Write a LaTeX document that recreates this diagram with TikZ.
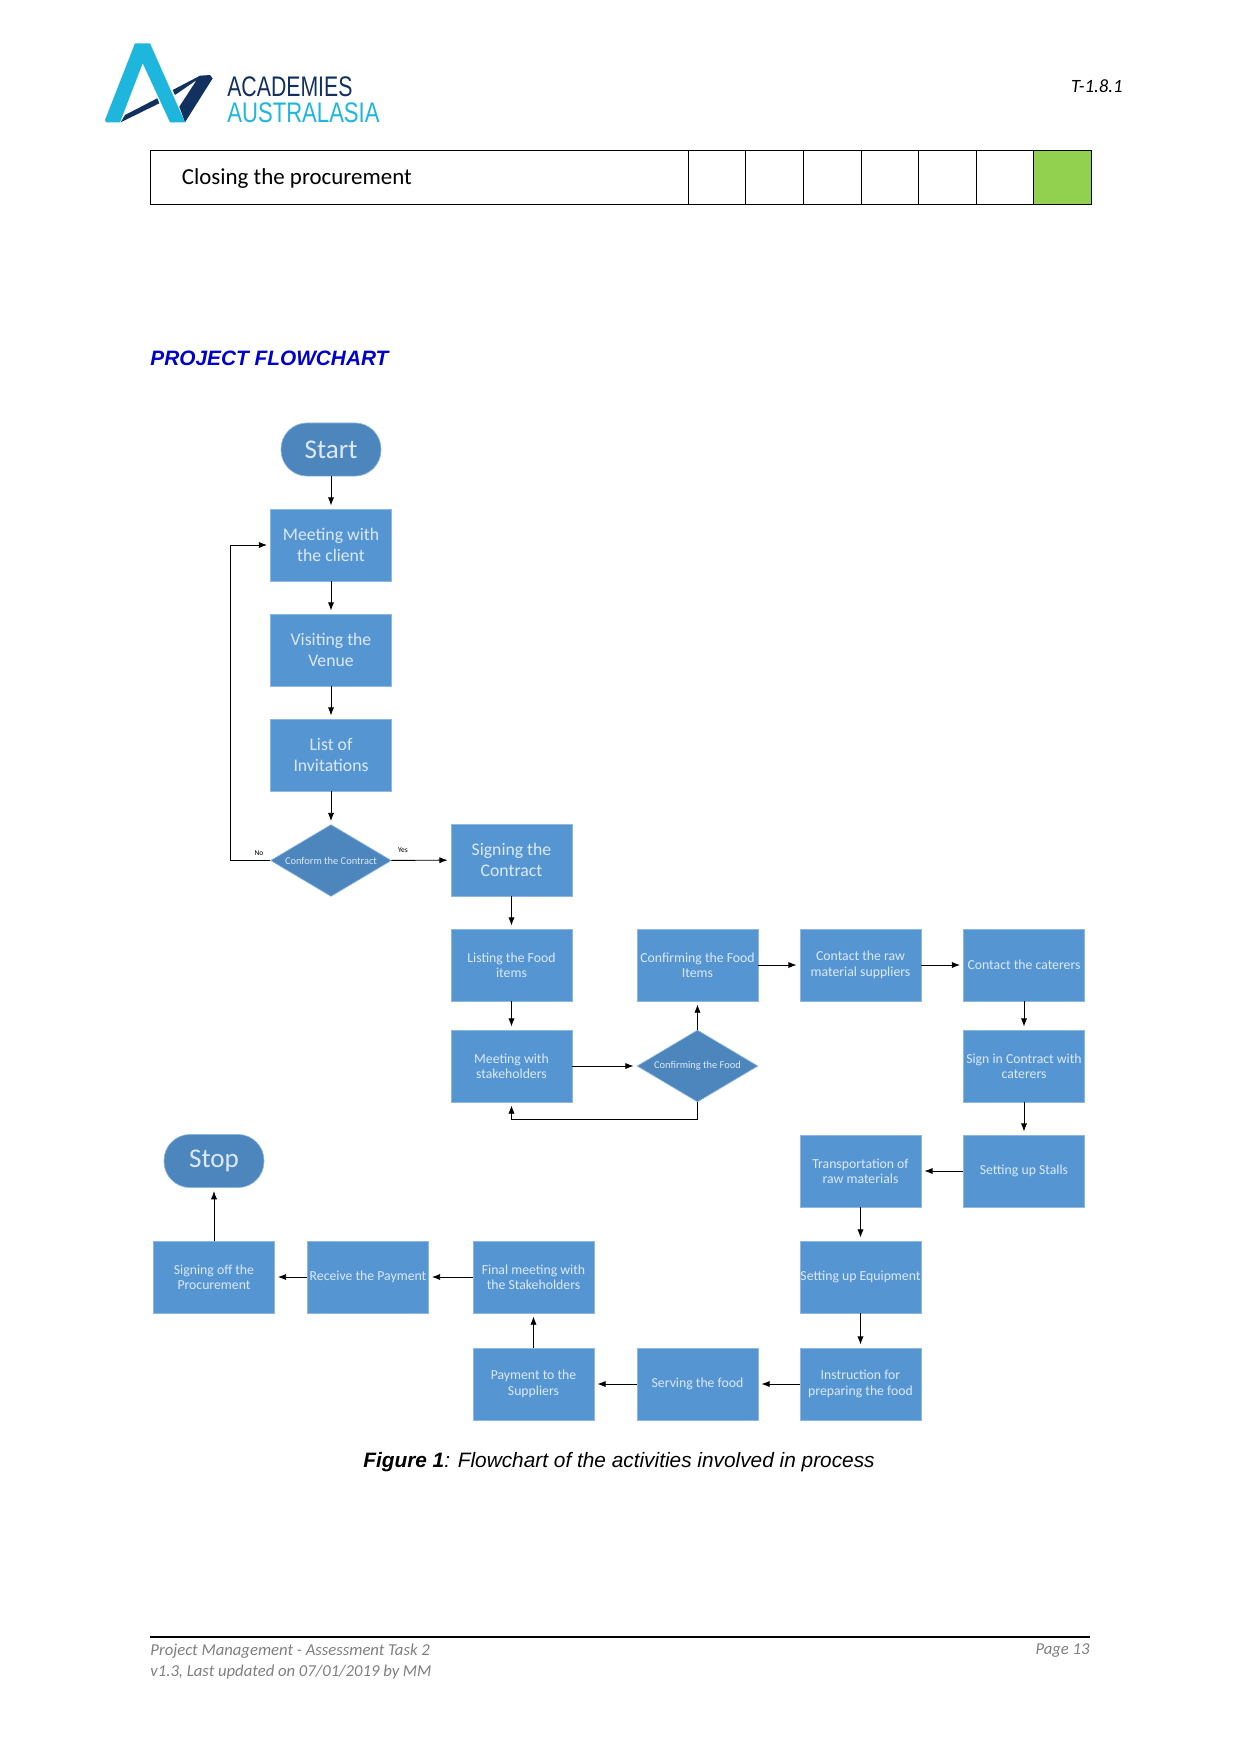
\documentclass[tikz,border=0pt]{standalone}
\usepackage{fontspec}
\setmainfont{Carlito}
\newfontfamily\arialfont{Liberation Sans}
\usetikzlibrary{arrows.meta,shapes.geometric}

\definecolor{boxblue}{HTML}{5596D2}
\definecolor{deepblue}{HTML}{4C86BC}
\definecolor{edgeblue}{HTML}{8DB8E2}
\definecolor{boxtext}{HTML}{DCE9F6}
\definecolor{logocyan}{HTML}{1FB6DE}
\definecolor{logonavy}{HTML}{13315F}
\definecolor{tickgreen}{HTML}{92D050}
\definecolor{footgray}{HTML}{7F7F7F}

\tikzset{
  box/.style={rectangle,draw=edgeblue,line width=0.3pt,fill=boxblue,text=boxtext,
    minimum width=58pt,minimum height=34.5pt,inner sep=0pt,align=center,
    font=\fontsize{8.5}{10.4}\selectfont},
  smallbox/.style={box,font=\fontsize{6.6}{7.4}\selectfont},
  term/.style={rectangle,rounded corners=12.5pt,draw=edgeblue,line width=0.3pt,fill=deepblue,
    text=boxtext,minimum height=25.5pt,inner sep=0pt,font=\fontsize{13}{15}\selectfont},
  decide/.style={diamond,draw=edgeblue,line width=0.3pt,fill=deepblue,text=boxtext,
    minimum width=58pt,minimum height=34.5pt,inner sep=0pt,aspect=1.67,
    font=\fontsize{5}{6}\selectfont},
  flow/.style={draw,line width=0.45pt,-{Latex[length=4pt,width=3pt]},shorten >=1.5pt}
}

\begin{document}
\begin{tikzpicture}[x=0.48pt,y=-0.48pt]
      \useasboundingbox (0,0) rectangle (1241,1754);

      % Logo
      \fill[logonavy] (120.7,122.3) -- (125,115) -- (157.3,98.3) -- (159.3,103.3) -- cycle;
      \fill[logonavy] (172.7,90) -- (200,75.7) -- (210,75) -- (212.7,78.3) -- (185,122.3)
        -- (179.3,106.7) -- (196.7,80) -- (175,95) -- cycle;
      \fill[logocyan] (105,120) -- (135,43.3) -- (150,43.3) -- (185,122.3)
        -- (170,122.3) -- (142.7,63.3) -- (120,122.3) -- (106,122.3) -- cycle;
      \node[anchor=west,inner sep=0pt,xscale=.75,transform shape,text=logonavy,
        font=\arialfont\fontsize{13.6}{14}\selectfont] (academies) at (227,87) {ACADEMIES};
      \node[anchor=west,inner sep=0pt,xscale=.78,transform shape,text=logocyan,
        font=\arialfont\fontsize{13.6}{14}\selectfont] (australasia) at (227,112.5) {AUSTRALASIA};
      \node[anchor=east,inner sep=0pt,font=\itshape\fontsize{9}{11}\selectfont] (code) at (1123,86) {T-1.8.1};

      % Table row
      \fill[tickgreen] (1033,150) rectangle (1091,204);
      \draw[line width=0.4pt] (150,150) rectangle (1091,204);
      \foreach \x in {688,745,803,861,918,976,1033}
        \draw[line width=0.4pt] (\x,150) -- (\x,204);
      \node[anchor=west,inner sep=0pt,font=\fontsize{11}{13}\selectfont] (closing) at (181.5,179) {Closing the procurement};

      % Headings
      \node[anchor=west,inner sep=0pt,text=blue!80!black,font=\arialfont\bfseries\itshape\fontsize{10}{12}\selectfont] (title) at (150,358.5) {PROJECT FLOWCHART};
      \node[inner sep=0pt,font=\arialfont\itshape\fontsize{10}{12}\selectfont] (caption) at (619,1462.5) {\textbf{Figure 1}: Flowchart of the activities involved in process};

      % Nodes
      \node[term,minimum width=48pt] (start) at (331,449.5) {Start};
      \node[box] (client) at (331,545) {Meeting with\\the client};
      \node[box] (venue) at (331,650) {Visiting the\\Venue};
      \node[box] (invite) at (331,755) {List of\\Invitations};
      \node[decide] (conform) at (331,860.5) {Conform the Contract};
      \node[box] (contract) at (511.5,860) {Signing the\\Contract};

      \node[smallbox] (listing) at (511.5,965) {Listing the Food\\items};
      \node[smallbox] (stake) at (511.5,1066) {Meeting with\\stakeholders};
      \node[decide] (foodcheck) at (697.5,1066) {Confirming the Food};
      \node[smallbox] (items) at (697.5,965) {Confirming the Food\\Items};
      \node[smallbox] (raw) at (860.5,965) {Contact the raw\\material suppliers};
      \node[smallbox] (caterers) at (1024,965) {Contact the caterers};
      \node[smallbox] (sign) at (1024,1066) {Sign in Contract with\\caterers};
      \node[smallbox] (stalls) at (1024,1171) {Setting up Stalls};
      \node[smallbox] (trans) at (860.5,1171) {Transportation of\\raw materials};
      \node[smallbox] (equip) at (860.5,1277) {Setting up Equipment};
      \node[smallbox] (instr) at (860.5,1384) {Instruction for\\preparing the food};
      \node[smallbox] (serve) at (697.5,1384) {Serving the food};
      \node[smallbox] (pay) at (533.5,1384) {Payment to the\\Suppliers};
      \node[smallbox] (final) at (533.5,1277) {Final meeting with\\the Stakeholders};
      \node[smallbox] (receive) at (368,1277) {Receive the Payment};
      \node[smallbox] (signoff) at (214,1277) {Signing off the\\Procurement};
      \node[term,minimum width=48pt] (stop) at (214,1161) {Stop};

      \node[inner sep=0pt,font=\fontsize{3.6}{4}\selectfont] (no) at (259,853) {No};
      \node[inner sep=0pt,font=\fontsize{3.6}{4}\selectfont] (yes) at (403,850) {Yes};

      \coordinate (noturn) at (230,860.5);
      \coordinate (backturn) at (697.5,1119);

      % Edges
      \begin{scope}[every edge/.style={flow}]
        \path (start) edge (client);
        \path (client) edge (venue);
        \path (venue) edge (invite);
        \path (invite) edge (conform);
        \path (conform) edge (contract);
        \path (contract) edge (listing);
        \path (listing) edge (stake);
        \path (stake) edge (foodcheck);
        \path (foodcheck) edge (items);
        \path (items) edge (raw);
        \path (raw) edge (caterers);
        \path (caterers) edge (sign);
        \path (sign) edge (stalls);
        \path (stalls) edge (trans);
        \path (trans) edge (equip);
        \path (equip) edge (instr);
        \path (instr) edge (serve);
        \path (serve) edge (pay);
        \path (pay) edge (final);
        \path (final) edge (receive);
        \path (receive) edge (signoff);
        \path (signoff) edge (stop);
      \end{scope}
      \draw[flow] (conform.west) -- (noturn) |- (client.west);
      \draw[flow] (foodcheck.south) -- (backturn) -| (stake.south);

      % Footer
      \draw[line width=0.8pt] (150,1637) coordinate (footl) -- (1090,1637) coordinate (footr);
      \begin{scope}[every node/.style={inner sep=0pt,text=footgray,font=\itshape\fontsize{8}{10}\selectfont}]
        \node[anchor=west] (task) at (150,1651) {Project Management - Assessment Task 2};
        \node[anchor=west] (version) at (150,1672) {v1.3, Last updated on 07/01/2019 by MM};
        \node[anchor=east] (page) at (1090,1651) {Page 13};
      \end{scope}

    \end{tikzpicture}
\end{document}
